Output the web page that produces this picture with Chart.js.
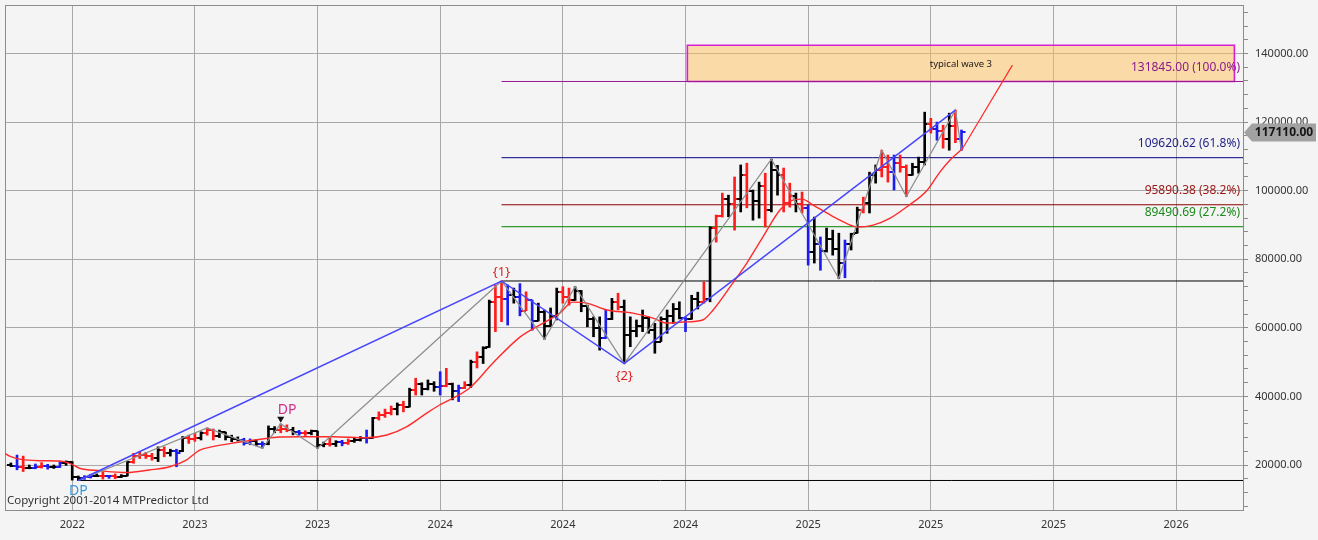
<!DOCTYPE html>
<html>
<head>
<meta charset="utf-8">
<title>Weekly bar chart</title>
<script src="https://cdn.jsdelivr.net/npm/chart.js@4.4.1/dist/chart.umd.min.js"></script>
<style>
  html, body { margin: 0; padding: 0; background: #f4f4f4; }
  #wrap { width: 1318px; height: 540px; }
</style>
</head>
<body>
<div id="wrap"><canvas id="priceChart" width="1318" height="540"></canvas></div>
<script>
// weekly OHLC bars, bar 0 is the first one on the left
const opens = [
  20000,19800,19300,19200,19100,19400,19700,19300,19500,20600,
  20900,16400,16200,16500,16900,16800,16700,16800,16600,16900,
  20900,22700,22800,22500,22000,24500,23500,24200,24000,27900,
  27500,28000,29300,30200,28400,29500,28200,27600,27400,26500,
  26900,26100,26000,30500,30300,30600,30200,29600,29200,29400,
  29900,25900,26200,26000,26600,26300,27000,27400,27800,27900,
  33700,34500,35200,36200,37600,36900,42000,43500,42200,43700,
  42700,43000,43500,41500,42500,43300,50000,51500,54500,67500,
  69000,68500,69500,69000,65000,68000,62000,64500,60500,63500,
  70500,69000,68000,70800,66500,62500,60000,57000,62500,67500,
  66000,58000,59000,60500,63000,59500,56000,62500,63500,65500,
  63000,62500,68500,67500,68500,89000,92500,97500,96000,97500,
  104500,100000,97000,101500,94500,106000,104500,96500,98500,96000,
  95000,82000,84500,82500,86000,83000,79000,84500,87700,94500,
  96500,104500,106000,107000,105500,108000,107000,104500,107000,108500,
  119500,118000,117500,115000,119000,115200
];
const highs = [
  20600,22900,22600,20000,20300,20700,20200,20000,21000,21200,
  21000,16800,16900,17300,17400,18000,16900,17400,17200,21000,
  23400,23900,23700,23400,25300,25300,24600,24600,28300,28700,
  29200,29700,30800,30500,30200,29600,28700,28200,27800,27600,
  27400,26800,31400,31200,32000,31700,31000,30100,30000,30200,
  29900,26700,27900,27100,27200,27600,28000,28300,30200,33900,
  35500,36300,37200,38100,38600,42400,45300,44000,44800,44300,
  47200,48200,43900,43300,44300,50600,53000,54500,68100,72500,
  73666,72500,71600,72900,70500,68100,67200,65200,65800,71600,
  72000,71600,72000,70900,66600,63200,63200,65200,68600,70100,
  68100,63200,62300,65200,63200,61300,63200,65200,67100,67600,
  63200,69500,70400,73400,89500,92900,99300,98700,104000,107500,
  108000,100200,102500,105100,109200,107400,106600,102200,99300,99600,
  95800,92300,86500,89100,88500,87600,85600,87600,95200,98100,
  105400,107500,111800,110400,110400,110400,107500,108000,109800,122900,
  121100,120000,119100,122600,123500,117700
];
const lows = [
  19500,18600,18100,18900,18900,19100,18800,19000,19300,19900,
  15600,15487,15800,16200,16600,15900,16100,16000,16300,16800,
  20500,21900,21900,21400,21000,22400,22600,19500,23900,26300,
  26900,27300,28700,27300,28000,27300,26800,27000,25800,25900,
  25600,24900,25900,29400,29400,29700,28800,28700,28600,28800,
  24900,25300,25500,25400,25600,26000,26600,27000,26400,27800,
  33100,33900,34600,34600,35500,36900,40400,40400,41900,41500,
  40400,42800,39000,38500,42300,42600,48300,49600,54300,58900,
  61800,60800,67200,63500,65000,59300,62000,56700,60300,62300,
  67200,66600,68000,64700,60300,57400,53500,56900,62400,65200,
  49600,54500,57400,58900,58400,52600,56000,58400,61300,62600,
  58900,62500,65500,67200,67600,85000,92300,92400,88500,93800,
  95000,91400,92000,89400,93800,98700,93800,95200,93800,93500,
  78300,78900,76800,82100,81200,74400,74600,82700,87600,93500,
  93500,102200,104000,102500,100200,105400,98300,104500,105100,107500,
  116800,114700,112400,111800,114000,111800
];
const closes = [
  19800,19300,19200,19100,19400,19700,19300,19500,20600,20900,
  16400,16200,16500,16900,16800,16700,16800,16600,16900,20900,
  22700,22800,22500,22000,24500,23500,24200,23400,27900,27500,
  28000,29300,30200,28400,29500,28200,27600,27400,26500,26900,
  26100,26000,30500,30300,30600,30200,29600,29200,29400,29900,
  25900,26200,26000,26600,26300,27000,27400,27800,27900,33700,
  34500,35200,36200,37600,36900,42000,43500,42200,43700,42700,
  43000,43500,41500,42500,43300,50000,51500,54000,67500,69000,
  68500,69500,69000,65000,68000,62000,64500,60500,63500,70500,
  69000,68000,70800,66500,62500,60000,57000,62500,67500,66000,
  58000,59000,60500,63000,59500,56000,62500,63500,65500,63000,
  62500,68500,67500,68500,89000,92500,97500,96000,97500,104500,
  100000,97000,101500,94500,106000,104500,96500,98500,96000,95000,
  82000,84500,82500,86000,83000,79000,84500,87500,94500,96500,
  104500,106000,107000,105500,108000,107000,104500,107000,108500,119500,
  118000,117500,115000,119000,115200,117110
];
// bar colour code per week: k = black, r = red, b = blue
const barKinds = ('kbrkbrbkbk kkbbkrbrkk rrrrkrkbkr rkrrkkkkbb kbkkrrkbrk ' +
  'kkrkbrkkbk rrrkrkrkkk brkbrkrkkr rbkbrbkkkk rrkkkkkbkr kkkkkkkkkk ' +
  'bkkrkrrkrk rkkrkkrrkr bkbkkkbkkr kkrrbrrkkk rbrkrb').replace(/ /g, '').split('');

// moving average at these bar positions
const maBars = [-0.96,-0.2,1.4,4.7,7.9,9.6,11.2,14.5,18.9,22.6,25.9,28.6,30.8,32.9,36.2,41.0,43.8,47.1,52.5,58.0,
  61.3,64.5,67.8,69.9,74.8,78.6,83.0,86.2,89.5,91.6,93.9,97.2,101.4,104.7,107.0,109.6,112.8,114.5,117.7,120.0,
  122.6,125.4,127.5,129.0,130.8,133.1,135.2,138.0,140.6,143.3,146.1,149.4,151.5,153.1,155.0];
const maValues = [23400,22600,21700,21250,21150,20500,19050,18350,17800,18550,19500,21450,24350,25350,26400,27600,28150,28250,28250,27950,
  28750,31150,35150,37500,42450,49750,57300,60800,64300,67500,67200,65200,64300,62850,61400,61700,62300,65200,73050,78900,
  86450,94350,97250,97550,95800,93450,91400,89400,89950,91900,95300,100150,105500,108900,112000];

// swing lines
const grayBars = [11, 32, 41, 44, 50, 80, 87, 92, 100, 124, 135, 142, 146, 154, 155];
const grayValues = [15487, 30800, 24900, 32000, 24900, 73666, 56700, 72000, 49600, 109200, 74400, 111800, 98300, 123500, 111800];
const blueBars = [11, 80, 100, 154];
const blueValues = [15487, 73666, 49600, 123500];
const targetBars = [155, 163.3];
const targetValues = [111800, 136600];

// horizontal levels
const levelValues = [131845.00, 109620.62, 95890.38, 89490.69];
const levelPcts = ['100.0%', '61.8%', '38.2%', '27.2%'];
const levelStartBar = 80;
const supportValues = [73666, 15487];
const supportStartBars = [80, 11];
const boxBars = [110.3, 199.5];
const boxValues = [131845, 142430];
const boxText = 'typical wave 3';

// axes
const xTickBars = [10, 30, 50, 70, 90, 110, 130, 150, 170, 190];
const xTickLabels = ['2022', '2023', '2023', '2024', '2024', '2024', '2025', '2025', '2025', '2026'];
const yTickStep = 4000;
const yLabelStep = 20000;

const xMin = -0.96, xMax = 200.9;
const yMin = 6880, yMax = 154150;

const kindColors = { k: '#000000', r: '#ff1c1c', b: '#1c1cf0' };
const levelLineColors = ['#941a94', '#000080', '#8b0000', '#008000'];
const levelTextColors = ['#8b1a8b', '#1f1f85', '#9c1414', '#1b8a1b'];
const FONT = '"Noto Sans", "DejaVu Sans", sans-serif';

Chart.defaults.font.family = FONT;

function tickImage(color, side) {
  const c = document.createElement('canvas');
  c.width = 10; c.height = 2;
  const g = c.getContext('2d');
  g.fillStyle = color;
  if (side === 'open') g.fillRect(1, 0, 4, 2);
  else g.fillRect(5, 0, 4, 2);
  return c;
}
const openImgs = {}, closeImgs = {};
Object.keys(kindColors).forEach(k => {
  openImgs[k] = tickImage(kindColors[k], 'open');
  closeImgs[k] = tickImage(kindColors[k], 'close');
});

const idx = opens.map((_, i) => i);
const pts = (xs, ys) => xs.map((x, k) => ({ x: x, y: ys[k] }));

const datasets = [];

// target box
datasets.push({
  type: 'line', order: 12,
  data: pts(boxBars, [boxValues[1], boxValues[1]]),
  borderWidth: 0, pointRadius: 0,
  fill: { value: boxValues[0] },
  backgroundColor: 'rgba(255,192,88,0.5)'
});
datasets.push({
  type: 'line', order: 11,
  data: pts([boxBars[0], boxBars[0], boxBars[1], boxBars[1], boxBars[0]],
            [boxValues[0], boxValues[1], boxValues[1], boxValues[0], boxValues[0]]),
  borderColor: '#d61fd6', borderWidth: 1.6, pointRadius: 0, fill: false
});

// levels
levelValues.forEach((v, k) => {
  datasets.push({
    type: 'line', order: 10,
    data: pts([levelStartBar, xMax], [v, v]),
    borderColor: levelLineColors[k], borderWidth: 1, pointRadius: 0, fill: false
  });
});
supportValues.forEach((v, k) => {
  datasets.push({
    type: 'line', order: 10,
    data: pts([supportStartBars[k], xMax], [v, v]),
    borderColor: '#000000', borderWidth: 1, pointRadius: 0, fill: false
  });
});

// bars: high-low
datasets.push({
  type: 'bar', order: 6,
  data: idx.map(i => ({ x: i, y: [lows[i], highs[i]] })),
  backgroundColor: ctx => kindColors[barKinds[ctx.dataIndex]],
  borderWidth: 0, barThickness: 2
});
// open / close ticks
datasets.push({
  type: 'line', order: 5, showLine: false,
  data: pts(idx, opens),
  pointStyle: ctx => openImgs[barKinds[ctx.dataIndex]],
  pointRadius: 3, pointHoverRadius: 3
});
datasets.push({
  type: 'line', order: 5, showLine: false,
  data: pts(idx, closes),
  pointStyle: ctx => closeImgs[barKinds[ctx.dataIndex]],
  pointRadius: 3, pointHoverRadius: 3
});

// moving average and swing lines
datasets.push({
  type: 'line', order: 3, data: pts(maBars, maValues),
  borderColor: '#ff2a2a', borderWidth: 1.4, pointRadius: 0,
  cubicInterpolationMode: 'monotone', fill: false
});
datasets.push({
  type: 'line', order: 2, data: pts(grayBars, grayValues),
  borderColor: '#8e8e8e', borderWidth: 1.3, pointRadius: 0, fill: false
});
datasets.push({
  type: 'line', order: 1, data: pts(blueBars, blueValues),
  borderColor: '#4646ff', borderWidth: 1.5, pointRadius: 0, fill: false
});
datasets.push({
  type: 'line', order: 1, data: pts(targetBars, targetValues),
  borderColor: '#ff2a2a', borderWidth: 1.2, pointRadius: 0, fill: false
});

const annotations = {
  id: 'annotations',
  beforeDatasetsDraw(chart) {
    const { ctx, chartArea: a } = chart;
    ctx.save();
    ctx.strokeStyle = '#8c8c8c';
    ctx.lineWidth = 1;
    ctx.strokeRect(a.left + 0.5, a.top + 0.5, a.right - a.left, a.bottom - a.top);
    ctx.restore();
  },
  afterDatasetsDraw(chart) {
    const { ctx, chartArea: a, scales: { x, y } } = chart;
    ctx.save();

    ctx.font = '12px ' + FONT;
    ctx.textAlign = 'right';
    ctx.textBaseline = 'middle';
    levelValues.forEach((v, k) => {
      ctx.fillStyle = levelTextColors[k];
      ctx.fillText(v.toFixed(2) + ' (' + levelPcts[k] + ')', a.right - 3, y.getPixelForValue(v) - 14);
    });

    ctx.textAlign = 'center';
    ctx.fillStyle = '#1a1a1a';
    ctx.font = '9.5px ' + FONT;
    ctx.fillText(boxText, x.getPixelForValue((boxBars[0] + boxBars[1]) / 2),
                 y.getPixelForValue((boxValues[0] + boxValues[1]) / 2) + 1);

    ctx.font = '13px ' + FONT;
    ctx.fillStyle = '#e0201e';
    ctx.fillText('{1}', x.getPixelForValue(blueBars[1]), y.getPixelForValue(blueValues[1]) - 9);
    ctx.fillText('{2}', x.getPixelForValue(blueBars[2]), y.getPixelForValue(blueValues[2]) + 13);

    // DP marks
    const dpx = x.getPixelForValue(grayBars[3]);
    const dpy = y.getPixelForValue(highs[grayBars[3]]);
    ctx.fillStyle = '#111';
    ctx.beginPath();
    ctx.moveTo(dpx - 3.5, dpy - 7);
    ctx.lineTo(dpx + 3.5, dpy - 7);
    ctx.lineTo(dpx, dpy - 1);
    ctx.closePath();
    ctx.fill();
    ctx.font = '14px ' + FONT;
    ctx.fillStyle = '#d0308c';
    ctx.textAlign = 'left';
    ctx.fillText('DP', dpx - 3, dpy - 14);
    ctx.fillStyle = '#3a9ad9';
    ctx.textAlign = 'center';
    ctx.fillText('DP', x.getPixelForValue(blueBars[0]), y.getPixelForValue(blueValues[0]) + 11);

    ctx.font = '11.5px ' + FONT;
    ctx.fillStyle = '#333';
    ctx.textAlign = 'left';
    ctx.fillText('Copyright 2001-2014 MTPredictor Ltd', a.left + 2, a.bottom - 9);
    ctx.restore();
  },
  afterDraw(chart) {
    const { ctx, chartArea: a, scales: { y } } = chart;
    const last = closes[closes.length - 1];
    const py = Math.round(y.getPixelForValue(last)) + 0.5;
    ctx.save();
    ctx.fillStyle = '#a2a2a2';
    ctx.beginPath();
    ctx.moveTo(a.right + 1, py);
    ctx.lineTo(a.right + 9, py - 9);
    ctx.lineTo(chart.width - 2, py - 9);
    ctx.lineTo(chart.width - 2, py + 9);
    ctx.lineTo(a.right + 9, py + 9);
    ctx.closePath();
    ctx.fill();
    ctx.fillStyle = '#161616';
    ctx.font = 'bold 12px ' + FONT;
    ctx.textAlign = 'center';
    ctx.textBaseline = 'middle';
    ctx.fillText(last.toFixed(2), (a.right + 9 + chart.width - 2) / 2, py + 0.5);
    ctx.restore();
  }
};

new Chart(document.getElementById('priceChart'), {
  type: 'bar',
  data: { datasets: datasets },
  options: {
    responsive: false,
    animation: false,
    events: [],
    layout: { padding: { left: 5, top: 5, right: 0, bottom: 0 } },
    plugins: { legend: { display: false }, tooltip: { enabled: false } },
    scales: {
      x: {
        type: 'linear', min: xMin, max: xMax, offset: false,
        afterBuildTicks: s => { s.ticks = xTickBars.map(v => ({ value: v })); },
        afterFit: s => { s.height = 30; s.paddingLeft = 0; s.paddingRight = 0; },
        grid: { color: '#a8a8a8', drawTicks: false, offset: false },
        border: { display: false },
        ticks: {
          autoSkip: false, maxRotation: 0, padding: 8, color: '#333',
          font: { size: 11 },
          callback: (v, k) => xTickLabels[k]
        }
      },
      y: {
        type: 'linear', position: 'right', min: yMin, max: yMax,
        afterBuildTicks: s => {
          const t = [];
          for (let v = Math.ceil(yMin / yTickStep) * yTickStep; v <= yMax; v += yTickStep) t.push({ value: v });
          s.ticks = t;
        },
        afterFit: s => { s.width = 75; s.paddingTop = 0; s.paddingBottom = 0; },
        grid: {
          color: c => (c.tick && c.tick.value % yLabelStep === 0) ? '#a8a8a8' : 'rgba(0,0,0,0)',
          tickColor: '#8c8c8c', tickLength: 5
        },
        border: { display: false },
        ticks: {
          autoSkip: false, padding: 7, color: '#333',
          font: { size: 11 },
          callback: v => (v % yLabelStep === 0 ? v.toFixed(2) : '')
        }
      }
    }
  },
  plugins: [annotations]
});
</script>
</body>
</html>
